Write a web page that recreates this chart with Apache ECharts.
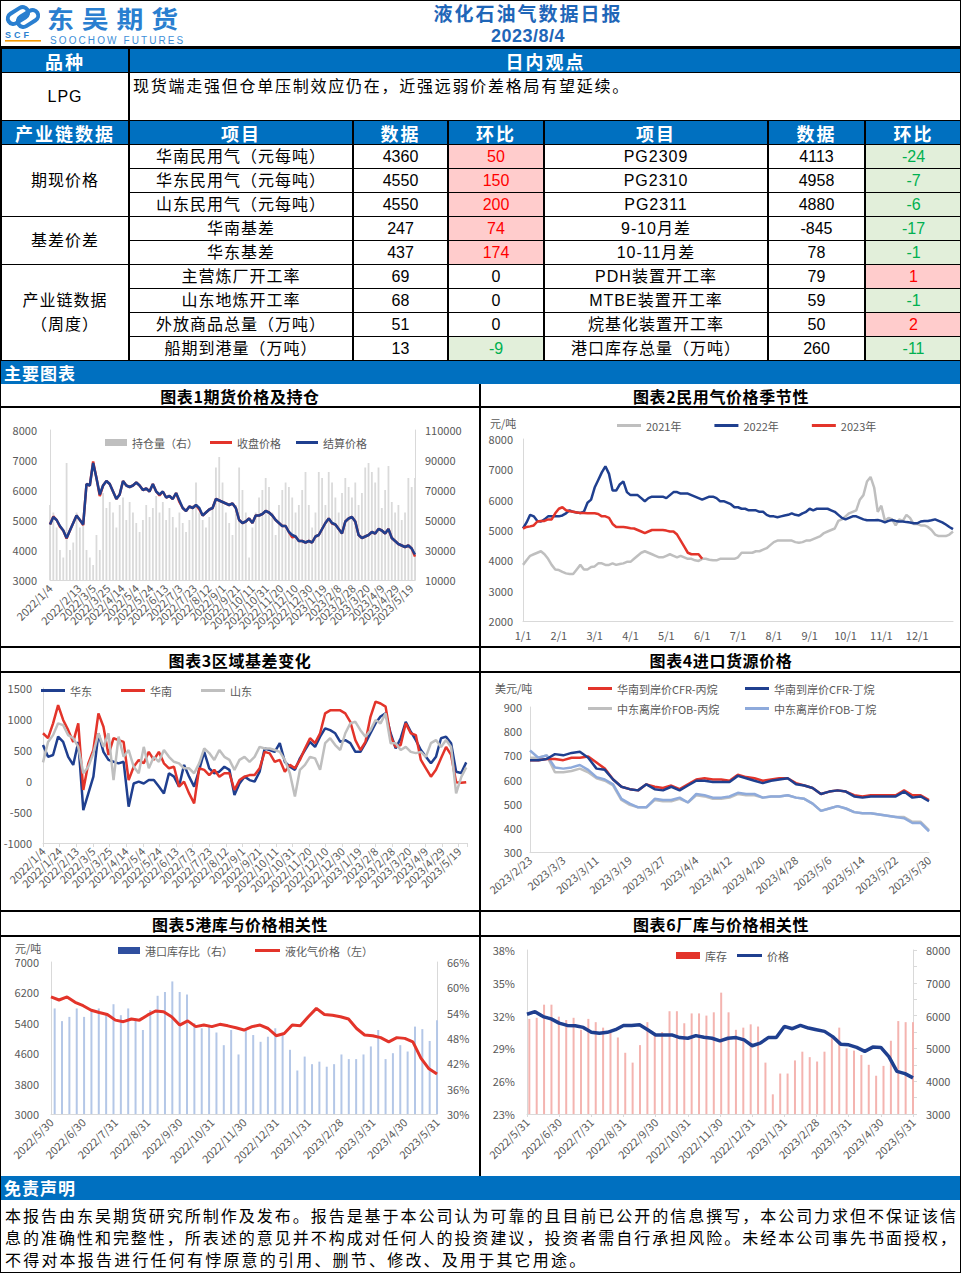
<!DOCTYPE html>
<html><head><meta charset="utf-8">
<script src="https://cdn.jsdelivr.net/npm/echarts@6.0.0/dist/echarts.min.js"></script>
<style>
html,body{margin:0;padding:0;background:#fff;}
#page{position:relative;width:961px;height:1273px;overflow:hidden;background:#fff;font-family:"Liberation Sans","Noto Sans CJK SC",sans-serif;color:#000;}
.a{position:absolute;}
.hl{position:absolute;background:#000;height:2px;}
.vl{position:absolute;background:#000;width:2px;}
.bar{position:absolute;left:0;width:961px;background:#0070C0;color:#fff;font-weight:bold;font-family:"Noto Sans CJK SC",sans-serif;font-size:17px;letter-spacing:1px;}
.ttl{position:absolute;height:22px;line-height:22px;text-align:center;font-family:"Noto Sans CJK SC",sans-serif;font-weight:bold;font-size:16px;letter-spacing:0.6px;}
.chart{position:absolute;}
table{position:absolute;left:0;top:48px;width:961px;border-collapse:collapse;table-layout:fixed;}
td{border:1px solid #000;border-left:2px solid #000;border-right:2px solid #000;padding:0;text-align:center;font-size:16px;line-height:20px;letter-spacing:1px;white-space:nowrap;overflow:hidden;font-family:"Liberation Sans","Noto Sans CJK SC",sans-serif;}
td.h{background:#0070C0;color:#fff;font-weight:bold;font-size:18px;font-family:"Noto Sans CJK SC",sans-serif;letter-spacing:2px;}
td.num{letter-spacing:0;}
td.up{background:#FFCCCC;color:#FF0000;}
td.dn{background:#E2EFDA;color:#00B050;}
.disc{position:absolute;left:5px;width:951px;font-family:"Noto Sans CJK SC",sans-serif;font-size:16px;line-height:20px;white-space:nowrap;}
.just{text-align:justify;text-align-last:justify;}
</style></head>
<body>
<div id="page">
  <!-- header -->
  <svg class="a" style="left:3px;top:1px" width="42" height="44" viewBox="0 0 42 44">
    <rect x="4" y="9" width="22" height="11" rx="5.5" transform="rotate(-32 15 14.5)" fill="none" stroke="#2a7fd0" stroke-width="4"/>
    <rect x="14" y="12" width="22" height="11" rx="5.5" transform="rotate(-32 25 17.5)" fill="none" stroke="#2a7fd0" stroke-width="4"/>
    <text x="2" y="37" font-size="9" font-weight="bold" fill="#2a7fd0" font-family="Liberation Sans" letter-spacing="3">SCF</text>
    <rect x="2" y="39" width="36" height="1.6" fill="#f39800"/>
  </svg>
  <div class="a" style="left:47px;top:0px;height:35px;font-family:'Noto Sans CJK SC';font-weight:bold;font-size:24px;letter-spacing:7px;color:#2a7fd0;line-height:35px;white-space:nowrap;transform:scaleX(1.12);transform-origin:0 0;">东吴期货</div>
  <div class="a" style="left:50px;top:35px;height:11px;font-family:'Liberation Sans';font-size:10px;letter-spacing:2.1px;color:#3d8fd9;line-height:11px;white-space:nowrap;">SOOCHOW FUTURES</div>
  <div class="a" style="left:380px;top:1px;width:296px;text-align:center;font-family:'Noto Sans CJK SC';font-weight:bold;font-size:19px;letter-spacing:2px;color:#1f66b8;line-height:24px;">液化石油气数据日报</div>
  <div class="a" style="left:380px;top:25px;width:296px;text-align:center;font-family:'Liberation Sans';font-weight:bold;font-size:18px;letter-spacing:0.5px;color:#1f66b8;line-height:22px;">2023/8/4</div>
  <div class="hl" style="left:0;top:46px;width:961px;"></div>

  <table id="tbl"></table>

  <div class="bar" style="top:361px;height:23px;line-height:23px;padding-left:4px;">主要图表</div>

  <!-- chart section frame -->
  <div class="ttl" style="left:0;top:385px;width:480px;">图表1期货价格及持仓</div>
  <div class="ttl" style="left:481px;top:385px;width:480px;">图表2民用气价格季节性</div>
  <div class="hl" style="left:0;top:406px;width:961px;"></div>
  <div class="hl" style="left:0;top:646px;width:961px;"></div>
  <div class="ttl" style="left:0;top:649px;width:480px;">图表3区域基差变化</div>
  <div class="ttl" style="left:481px;top:649px;width:480px;">图表4进口货源价格</div>
  <div class="hl" style="left:0;top:671px;width:961px;"></div>
  <div class="hl" style="left:0;top:910px;width:961px;"></div>
  <div class="ttl" style="left:0;top:913px;width:480px;">图表5港库与价格相关性</div>
  <div class="ttl" style="left:481px;top:913px;width:480px;">图表6厂库与价格相关性</div>
  <div class="hl" style="left:0;top:935px;width:961px;"></div>
  <div class="vl" style="left:479px;top:384px;height:792px;"></div>

  <div id="c1" class="chart" style="left:1px;top:408px;width:478px;height:238px;"></div>
  <div id="c2" class="chart" style="left:482px;top:408px;width:478px;height:238px;"></div>
  <div id="c3" class="chart" style="left:1px;top:673px;width:478px;height:237px;"></div>
  <div id="c4" class="chart" style="left:482px;top:673px;width:478px;height:237px;"></div>
  <div id="c5" class="chart" style="left:1px;top:937px;width:478px;height:238px;"></div>
  <div id="c6" class="chart" style="left:482px;top:937px;width:478px;height:238px;"></div>

  <div class="bar" style="top:1176px;height:24px;line-height:24px;padding-left:4px;">免责声明</div>
  <div class="disc just" style="top:1205px;">本报告由东吴期货研究所制作及发布。报告是基于本公司认为可靠的且目前已公开的信息撰写，本公司力求但不保证该信</div>
  <div class="disc just" style="top:1227px;">息的准确性和完整性，所表述的意见并不构成对任何人的投资建议，投资者需自行承担风险。未经本公司事先书面授权，</div>
  <div class="disc" style="top:1249px;letter-spacing:2.2px;">不得对本报告进行任何有悖原意的引用、删节、修改、及用于其它用途。</div>

  <div class="a" style="left:0;top:0;width:959px;height:1271px;border:1px solid #000;pointer-events:none;"></div>
</div>

<script>
// ---------------- table data ----------------
const tblViewLabel = '品种';
const tblViewHead = '日内观点';
const tblVariety = 'LPG';
const tblView = '现货端走强但仓单压制效应仍在，近强远弱价差格局有望延续。';
const tblHeads = ['产业链数据','项目','数据','环比','项目','数据','环比'];
const tblGroups = [['期现价格',3],['基差价差',2],['产业链数据<br>（周度）',4]];
const tblItemsL = ['华南民用气（元每吨）','华东民用气（元每吨）','山东民用气（元每吨）','华南基差','华东基差','主营炼厂开工率','山东地炼开工率','外放商品总量（万吨）','船期到港量（万吨）'];
const tblValsL = ['4360','4550','4550','247','437','69','68','51','13'];
const tblChgL = [50,150,200,74,174,0,0,0,-9];
const tblItemsR = ['PG2309','PG2310','PG2311','9-10月差','10-11月差','PDH装置开工率','MTBE装置开工率','烷基化装置开工率','港口库存总量（万吨）'];
const tblValsR = ['4113','4958','4880','-845','78','79','59','50','260'];
const tblChgR = [-24,-7,-6,-17,-1,1,-1,2,-11];

// ---------------- chart 1 ----------------
const c1Ticks = ['2022/1/4','2022/1/24','2022/2/13','2022/3/5','2022/3/25','2022/4/14','2022/5/4','2022/5/24','2022/6/13','2022/7/3','2022/7/23','2022/8/12','2022/9/1','2022/9/21','2022/10/11','2022/10/31','2022/11/20','2022/12/10','2022/12/30','2023/1/19','2023/2/8','2023/2/28','2023/3/20','2023/4/9','2023/4/29','2023/5/19'];
const c1Step = 4.6;
const c1OI = [60000,55000,45000,30000,25000,88000,30000,35000,55000,45000,
  50000,30000,25000,20000,40000,30000,68000,58000,62000,55000,
  45000,60000,65000,50000,62000,55000,48000,42000,50000,60000,
  52000,58000,66000,55000,62000,50000,58000,52000,45000,55000,
  48000,42000,50000,60000,75000,55000,50000,45000,52000,58000,
  85000,92000,75000,55000,48000,40000,60000,85000,70000,55000,
  25000,45000,55000,65000,70000,78000,72000,55000,40000,60000,
  70000,75000,72000,65000,55000,60000,70000,82000,60000,45000,
  55000,82000,78000,60000,82000,75000,65000,55000,68000,78000,
  72000,65000,75000,60000,68000,85000,88000,82000,75000,85000,
  58000,70000,86000,62000,55000,60000,50000,55000,78000,72000,
  78000];
const c1Close = [4850,5120,5000,4780,4650,4380,4650,4900,5150,5000,
  4830,6200,6150,6950,6400,5800,6150,6300,6200,5950,
  5700,5850,6300,6150,6100,6150,6250,6150,6000,6050,
  5950,6200,5950,5820,5950,5750,5800,5700,5900,5600,
  5400,5300,5450,5400,5500,5350,5150,5250,5350,5400,
  5700,5650,5600,5550,5500,5550,5400,5000,4900,4950,
  5050,4900,5150,5150,5200,5300,5250,5150,5000,4900,
  4800,4800,4600,4420,4450,4300,4300,4250,4300,4250,
  4450,4500,4700,4900,5050,4880,4850,4700,4550,4950,
  5050,5100,4950,4500,4400,4450,4500,4600,4550,4700,
  4650,4550,4700,4400,4300,4200,4150,4100,4150,4050,
  3780];
const c1Settle = [4850,5100,5000,4800,4650,4400,4650,4900,5150,5000,
  4850,6200,6150,6900,6400,5850,6150,6300,6200,5950,
  5700,5850,6300,6150,6100,6150,6250,6150,6000,6050,
  5950,6200,5950,5850,5950,5750,5800,5700,5900,5650,
  5400,5300,5450,5400,5500,5400,5150,5250,5350,5400,
  5700,5650,5600,5550,5500,5550,5400,5000,4900,4950,
  5050,4900,5150,5150,5200,5300,5250,5150,5000,4900,
  4800,4800,4600,4500,4450,4300,4300,4250,4300,4250,
  4450,4500,4700,4900,5050,4900,4850,4700,4550,4950,
  5050,5100,4950,4500,4400,4450,4500,4600,4550,4700,
  4650,4550,4700,4400,4300,4200,4150,4100,4150,4050,
  3850];

// ---------------- chart 2 ----------------
const c2Ticks = ['1/1','2/1','3/1','4/1','5/1','6/1','7/1','8/1','9/1','10/1','11/1','12/1'];
const c2Step = 0.1;
const c2Y2021 = [3850,4000,4150,4200,4250,4300,4200,4050,3850,3700,
  3680,3620,3570,3550,3550,3700,3850,3700,3700,3780,
  3800,3900,3900,3850,3850,3900,3850,3880,3900,3950,
  3950,4050,4150,4250,4300,4250,4200,4150,4100,4100,
  4150,4200,4150,4100,4150,4100,4050,4050,4000,3980,
  4050,4050,4020,4000,4000,4050,4050,4050,4050,4050,
  4100,4250,4250,4250,4250,4300,4300,4350,4400,4500,
  4600,4650,4650,4650,4650,4650,4600,4580,4600,4650,
  4650,4700,4750,4800,4900,4950,5000,5050,5300,5350,
  5450,5550,5600,5650,6000,6150,6600,6750,6400,5600,
  5800,5300,5400,5350,5150,5350,5300,5500,5400,5200,
  5200,5150,5150,5100,5000,4850,4800,4800,4800,4850,
  4950];
const c2Y2022 = [5050,5250,5500,5450,5300,5280,5350,5450,5450,5450,
  5450,5480,5550,5650,5600,5580,5560,5600,5900,6000,
  6400,6650,6900,7100,6850,6300,6300,6500,6600,6250,
  6150,6150,6150,6050,5950,6050,6100,6100,6100,6100,
  6050,6150,6250,6250,6200,6200,6200,6150,6100,6050,
  6000,6050,6100,6100,6050,5950,5950,5900,5850,5750,
  5750,5700,5700,5650,5650,5650,5600,5600,5500,5450,
  5450,5420,5450,5480,5500,5550,5500,5480,5550,5600,
  5700,5650,5700,5700,5700,5700,5650,5600,5500,5400,
  5350,5400,5450,5450,5400,5350,5320,5320,5320,5330,
  5300,5250,5300,5330,5300,5280,5280,5260,5250,5220,
  5220,5280,5300,5300,5320,5350,5300,5250,5180,5100,
  5030];
const c2Y2023 = [5050,5100,5120,5150,5280,5300,5300,5350,5350,5550,
  5700,5750,5650,5620,5600,5580,5560,5560,5550,5550,
  5550,5530,5450,5450,5400,5200,5100,5100,5100,5080,
  5060,5050,5000,4950,4900,4950,5000,5000,5000,5000,
  4980,4950,4950,4850,4650,4450,4250,4200,4200,4200,
  4050];

// ---------------- chart 3 ----------------
const c3Ticks = ['2022/1/4','2022/1/24','2022/2/13','2022/3/5','2022/3/25','2022/4/14','2022/5/4','2022/5/24','2022/6/13','2022/7/3','2022/7/23','2022/8/12','2022/9/1','2022/9/21','2022/10/11','2022/10/31','2022/11/20','2022/12/10','2022/12/30','2023/1/19','2023/2/8','2023/2/28','2023/3/20','2023/4/9','2023/4/29','2023/5/19'];
const c3Step = 6.06;
const c3East = [580,390,420,715,630,390,260,630,-470,-200,
  70,770,470,340,310,285,310,-415,-40,-10,
  -40,15,15,-90,-200,125,70,-90,260,70,
  -90,180,470,205,125,150,230,180,-225,-40,
  70,15,-10,150,525,500,470,610,310,230,
  180,365,500,630,550,715,850,820,770,630,
  660,610,470,470,610,770,930,1040,1090,770,
  525,690,955,795,660,500,390,285,390,690,
  715,610,150,130,300];
const c3South = [770,690,930,1225,985,820,630,930,-145,285,
  500,1090,875,420,690,660,630,15,230,340,
  285,470,340,470,285,205,230,-90,-10,-200,
  -360,205,180,95,180,70,125,125,-145,15,
  70,95,95,205,470,445,310,340,150,260,
  205,340,525,690,610,770,1090,1140,1140,1140,
  1090,955,660,500,630,1035,1280,1250,1200,715,
  550,580,930,770,740,340,205,70,180,365,
  550,420,-20,-30,-20];
const c3Shandong = [300,630,740,930,900,740,690,550,125,230,
  450,770,550,770,15,715,390,500,230,125,
  550,205,390,310,500,390,310,285,205,205,
  125,285,525,450,340,500,390,340,180,340,
  390,310,390,550,525,525,500,470,340,125,
  -250,180,260,390,365,180,610,690,580,500,
  770,930,955,820,715,820,985,930,1090,610,
  610,500,550,470,450,470,390,610,660,550,
  660,550,-200,60,220];

// ---------------- chart 4 ----------------
const c4Ticks = ['2023/2/23','2023/3/3','2023/3/11','2023/3/19','2023/3/27','2023/4/4','2023/4/12','2023/4/20','2023/4/28','2023/5/6','2023/5/14','2023/5/22','2023/5/30'];
const c4Step = 2;
const c4CfrPropane = [680,680,685,685,680,690,690,695,670,645,
  600,570,560,555,580,570,565,575,560,580,
  600,605,600,600,595,620,610,605,595,600,
  605,605,585,575,565,540,550,555,550,535,
  530,535,535,535,535,555,535,535,515];
const c4CfrButane = [680,680,685,705,700,710,715,690,645,640,
  600,570,560,555,580,560,555,570,555,575,
  595,595,590,590,590,615,605,595,585,595,
  600,605,580,575,565,540,550,555,550,530,
  525,530,530,530,530,550,525,530,510];
const c4FobPropane = [690,690,700,630,630,635,645,630,605,595,
  575,515,495,485,485,515,510,510,520,505,
  535,530,520,520,525,540,535,535,525,530,
  530,535,525,520,500,470,480,490,480,465,
  460,460,455,450,445,445,425,425,390];
const c4FobButane = [720,690,700,650,645,650,660,640,610,600,
  580,520,500,485,485,520,515,515,525,505,
  540,535,525,525,530,545,540,540,525,530,
  530,535,525,520,500,470,480,490,480,465,
  460,460,455,450,445,440,420,420,385];

// ---------------- chart 5 ----------------
const c5Ticks = ['2022/5/30','2022/6/30','2022/7/31','2022/8/31','2022/9/30','2022/10/31','2022/11/30','2022/12/31','2023/1/31','2023/2/28','2023/3/31','2023/4/30','2023/5/31'];
const c5LineStep = 0.25;
const c5BarStart = 0.114, c5BarStep = 0.2286;
const c5Ratio = [55.0,52.0,53.0,55.0,53.0,54.8,55.0,53.8,56.0,53.4,
  55.0,52.6,49.9,54.6,58.0,58.9,61.4,58.9,58.3,51.5,
  50.3,51.1,49.3,46.3,49.9,44.1,49.9,48.7,47.1,48.3,
  50.3,49.1,45.2,40.3,43.6,41.8,42.4,41.2,41.8,44.1,
  43.0,43.0,44.1,46.0,49.9,43.0,44.4,46.3,44.8,50.7,
  50.1,47.3,52.2];
const c5Price = [6080,6000,6080,5940,5850,5730,5670,5620,5470,5430,
  5500,5470,5600,5710,5690,5560,5340,5450,5300,5340,
  5300,5360,5320,5270,5210,5300,5340,5250,5060,5120,
  5340,5320,5560,5780,5620,5600,5560,5500,5250,5080,
  5060,5010,4900,5010,4990,4900,4470,4190,4050];

// ---------------- chart 6 ----------------
const c6Ticks = ['2022/5/31','2022/6/30','2022/7/31','2022/8/31','2022/9/30','2022/10/31','2022/11/30','2022/12/31','2023/1/31','2023/2/28','2023/3/31','2023/4/30','2023/5/31'];
const c6LineStep = 0.25;
const c6BarStart = 0.072, c6BarStep = 0.2294;
const c6Stock = [31.7,31.8,33.0,33.0,31.9,31.6,31.8,30.7,31.7,31.4,
  30.9,30.5,30.0,28.6,27.7,29.3,31.4,30.4,30.5,32.4,
  32.4,31.3,32.2,32.2,32.0,32.3,34.1,32.3,30.7,30.9,
  31.2,31.0,27.7,24.8,26.7,26.7,27.9,28.7,28.2,27.8,
  28.7,30.2,30.9,29.0,28.8,28.4,27.5,26.5,27.4,29.7,
  31.5,31.4,31.4];
const c6Price = [6040,6120,5970,5900,5770,5700,5690,5640,5490,5460,
  5490,5570,5700,5700,5720,5570,5410,5410,5410,5330,
  5310,5390,5340,5310,5230,5310,5330,5260,5080,5160,
  5330,5330,5670,5600,5700,5620,5570,5520,5360,5130,
  5110,5030,4910,5040,5030,4750,4300,4230,4100];

// ---------------- build table ----------------
(function(){
  const tb = document.getElementById('tbl');
  let h = '<colgroup>' + [128,224,95,96,224,97,97].map(w=>'<col style="width:'+w+'px">').join('') + '</colgroup>';
  h += '<tr style="height:24px"><td class="h">'+tblViewLabel+'</td><td class="h" colspan="6">'+tblViewHead+'</td></tr>';
  h += '<tr style="height:48px"><td>'+tblVariety+'</td><td colspan="6" style="text-align:left;vertical-align:top;padding:2px 0 0 3px;letter-spacing:1.75px;font-family:\'Noto Sans CJK SC\'">'+tblView+'</td></tr>';
  h += '<tr style="height:24px">' + tblHeads.map(t=>'<td class="h">'+t+'</td>').join('') + '</tr>';
  const cls = v => v>0 ? 'num up' : (v<0 ? 'num dn' : 'num');
  let gi = 0, left = 0;
  for (let i=0;i<tblItemsL.length;i++){
    h += '<tr style="height:24px">';
    if (left===0){ const g=tblGroups[gi++]; left=g[1]; h += '<td rowspan="'+g[1]+'" style="line-height:24px">'+g[0]+'</td>'; }
    left--;
    h += '<td>'+tblItemsL[i]+'</td><td class="num">'+tblValsL[i]+'</td><td class="'+cls(tblChgL[i])+'">'+tblChgL[i]+'</td>';
    h += '<td>'+tblItemsR[i]+'</td><td class="num">'+tblValsR[i]+'</td><td class="'+cls(tblChgR[i])+'">'+tblChgR[i]+'</td>';
    h += '</tr>';
  }
  tb.innerHTML = h;
})();

// ---------------- charts ----------------
const GRAY = '#595959', AXC = '#d9d9d9', FONT = '"Noto Sans CJK SC", sans-serif';
const RED = '#e3342a', NAVY = '#1f3f8f', LGRAY = '#bfbfbf', LBLUE = '#8eaadb';
const T = (o) => Object.assign({color:GRAY, fontSize:11, fontFamily:FONT}, o||{});
const plain = v => String(v);
const pct = v => v + '%';
function fmt(arr, step){ return function(v){ const i = Math.round(v/step); return (Math.abs(v-i*step) < 1e-6 && i>=0 && i < arr.length) ? arr[i] : ''; }; }
function xy(vals, start, step){ return vals.map((v,i)=>[Math.round((start+i*step)*10000)/10000, v]); }
function xAx(max, interval, ticks, rot, extra){
  return Object.assign({type:'value', min:0, max:max, interval:interval, splitLine:{show:false},
    axisLine:{show:true, lineStyle:{color:AXC}}, axisTick:{show:false},
    axisLabel:T({rotate:rot, margin:6, showMinLabel:true, showMaxLabel:true, formatter:fmt(ticks, interval)})}, extra||{});
}
function yAx(min, max, interval, margin, extra, f){
  return Object.assign({type:'value', min:min, max:max, interval:interval, splitLine:{show:false},
    axisLine:{show:true, lineStyle:{color:AXC}}, axisTick:{show:false},
    axisLabel:T({margin:margin, showMinLabel:true, showMaxLabel:true, formatter:f||plain})}, extra||{});
}
function lg(left, top, data, w, h, gap){
  return {left:left, top:top, itemWidth:w, itemHeight:h, icon:'rect', itemGap:gap||10, selectedMode:false, textStyle:T(), data:data, padding:0};
}
function line(name, data, color, width, yi){
  return {name:name, type:'line', data:data, symbol:'none', showSymbol:false, yAxisIndex:yi||0, lineStyle:{color:color, width:width}, itemStyle:{color:color}, z:3};
}
function bars(name, data, color, yi, w){
  return {name:name, type:'bar', data:data, barWidth:w||2, yAxisIndex:yi||0, itemStyle:{color:color}, z:1};
}
function grid(l,r,t,b){ return {left:l, right:r, top:t, bottom:b, containLabel:false, outerBoundsMode:'none'}; }
function mk(id, opt){
  const c = echarts.init(document.getElementById(id), null, {renderer:'svg'});
  c.setOption(Object.assign({animation:false, textStyle:T()}, opt));
}

// chart 1
mk('c1', {
  grid: grid(49, 64, 22, 66),
  legend: [
    lg(104, 29, [{name:'持仓量（右）', itemStyle:{color:LGRAY}}], 22, 7),
    lg(209, 29, ['收盘价格','结算价格'], 22, 3, 15)
  ],
  xAxis: xAx(506, 20, c1Ticks, 45),
  yAxis: [yAx(3000, 8000, 1000, 13), yAx(10000, 110000, 20000, 10)],
  series: [
    bars('持仓量（右）', xy(c1OI, 0, c1Step), '#dadada', 1, 1.8),
    line('收盘价格', xy(c1Close, 0, c1Step), RED, 2.5),
    line('结算价格', xy(c1Settle, 0, c1Step), NAVY, 2.5)
  ]
});

// chart 2
mk('c2', {
  grid: grid(41, 7, 31, 25),
  legend: [lg(135, 12, ['2021年','2022年','2023年'], 24, 3, 33)],
  graphic: [{type:'text', left:8, top:9, style:{text:'元/吨', fill:GRAY, fontSize:11, fontFamily:FONT}}],
  xAxis: xAx(12, 1, c2Ticks, 0, {axisLabel:T({margin:8, showMinLabel:true, formatter:fmt(c2Ticks,1)})}),
  yAxis: [yAx(2000, 8000, 1000, 10)],
  series: [
    line('2021年', xy(c2Y2021, 0, c2Step), LGRAY, 2.5),
    line('2022年', xy(c2Y2022, 0, c2Step), NAVY, 2.5),
    line('2023年', xy(c2Y2023, 0, c2Step), RED, 2.5)
  ]
});

// chart 3
mk('c3', {
  grid: grid(42, 12, 15, 67),
  legend: [lg(40, 12, ['华东','华南','山东'], 24, 3, 29)],
  xAxis: [
    xAx(510, 20, c3Ticks, 45, {axisLine:{show:false}}),
    {type:'value', min:0, max:510, interval:20, position:'bottom', splitLine:{show:false},
     axisLine:{show:true, onZero:true, lineStyle:{color:AXC}}, axisTick:{show:true, length:4, lineStyle:{color:AXC}},
     axisLabel:{show:false}}
  ],
  yAxis: [yAx(-1000, 1500, 500, 11)],
  series: [
    line('华东', xy(c3East, 0, c3Step), NAVY, 2.5),
    line('华南', xy(c3South, 0, c3Step), RED, 2.5),
    line('山东', xy(c3Shandong, 0, c3Step), LGRAY, 2.5)
  ]
});

// chart 4
mk('c4', {
  grid: grid(48, 31, 34, 58),
  legend: [
    lg(106, 10, ['华南到岸价CFR-丙烷'], 24, 3),
    lg(263, 10, ['华南到岸价CFR-丁烷'], 24, 3),
    lg(106, 30, ['中东离岸价FOB-丙烷'], 24, 3),
    lg(263, 30, ['中东离岸价FOB-丁烷'], 24, 3)
  ],
  graphic: [{type:'text', left:13, top:9, style:{text:'美元/吨', fill:GRAY, fontSize:11, fontFamily:FONT}}],
  xAxis: xAx(96, 8, c4Ticks, 40),
  yAxis: [yAx(300, 900, 100, 8)],
  series: [
    line('中东离岸价FOB-丙烷', xy(c4FobPropane, 0, c4Step), LGRAY, 2.5),
    line('中东离岸价FOB-丁烷', xy(c4FobButane, 0, c4Step), LBLUE, 2.5),
    line('华南到岸价CFR-丙烷', xy(c4CfrPropane, 0, c4Step), RED, 2.5),
    line('华南到岸价CFR-丁烷', xy(c4CfrButane, 0, c4Step), NAVY, 2.5)
  ]
});

// chart 5
mk('c5', {
  grid: grid(50, 42, 25, 61),
  legend: [
    lg(117, 8, [{name:'港口库存比（右）', itemStyle:{color:'#2f4f9f'}}], 22, 7),
    lg(254, 8, ['液化气价格（左）'], 25, 3)
  ],
  graphic: [{type:'text', left:14, top:5, style:{text:'元/吨', fill:GRAY, fontSize:11, fontFamily:FONT}}],
  xAxis: xAx(12, 1, c5Ticks, 45),
  yAxis: [yAx(3000, 7000, 800, 12), yAx(30, 66, 6, 10, null, pct)],
  series: [
    bars('港口库存比（右）', xy(c5Ratio, c5BarStart, c5BarStep), '#b4c7e7', 1),
    line('液化气价格（左）', xy(c5Price, 0, c5LineStep), RED, 3)
  ]
});

// chart 6
mk('c6', {
  grid: grid(45, 47, 13, 61),
  legend: [
    lg(194, 13, [{name:'库存', itemStyle:{color:RED}}], 24, 7),
    lg(255, 13, ['价格'], 25, 3)
  ],
  xAxis: xAx(12, 1, c6Ticks, 45, {axisTick:{show:true, length:3, lineStyle:{color:AXC}}}),
  yAxis: [
    yAx(23, 38, 3, 12, null, pct),
    yAx(3000, 8000, 1000, 13, {axisTick:{show:true, length:4, lineStyle:{color:AXC}}, minorTick:{show:true, splitNumber:2, length:4, lineStyle:{color:AXC}}})
  ],
  series: [
    bars('库存', xy(c6Stock, c6BarStart, c6BarStep), '#f4b4b0', 0),
    line('价格', xy(c6Price, 0, c6LineStep), NAVY, 3.5, 1)
  ]
});
</script>
</body></html>
